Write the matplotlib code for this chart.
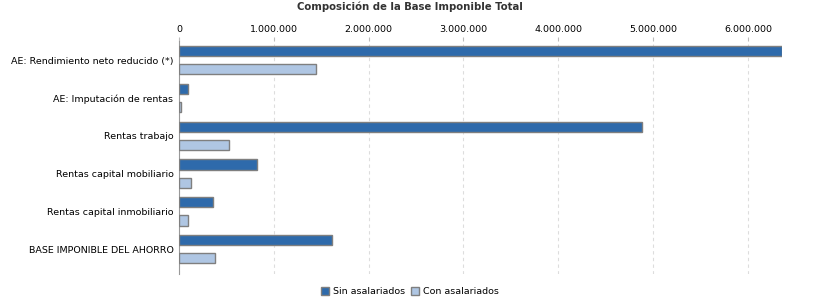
import matplotlib
matplotlib.use("Agg")
import matplotlib.pyplot as plt
import numpy as np
from matplotlib.ticker import FuncFormatter, MultipleLocator

categorias = [
    "AE: Rendimiento neto reducido (*)",
    "AE: Imputación de rentas",
    "Rentas trabajo",
    "Rentas capital mobiliario",
    "Rentas capital inmobiliario",
    "BASE IMPONIBLE DEL AHORRO",
]
sin_asalariados = [6360000, 92000, 4880000, 820000, 360000, 1610000]
con_asalariados = [1450000, 25000, 530000, 130000, 100000, 380000]

fig = plt.figure(figsize=(8.2, 3.0), dpi=100)
ax = fig.add_axes([0.2183, 0.087, 0.7354, 0.776])

y = np.arange(len(categorias))
alto = 0.27
ax.barh(y - 0.24, sin_asalariados, height=alto, color="#2E6AAB",
        edgecolor="#7F7F7F", linewidth=1, label="Sin asalariados", zorder=3)
ax.barh(y + 0.24, con_asalariados, height=alto, color="#AFC6E3",
        edgecolor="#7F7F7F", linewidth=1, label="Con asalariados", zorder=3)

ax.set_ylim(len(categorias) - 0.5 + 0.15, -0.5)
ax.set_xlim(0, max(sin_asalariados))
ax.set_yticks(y)
ax.set_yticklabels(categorias, fontsize=6.8)
ax.tick_params(axis="y", length=0, pad=4)

ax.xaxis.tick_top()
ax.xaxis.set_major_locator(MultipleLocator(1000000))
ax.xaxis.set_major_formatter(FuncFormatter(lambda v, p: f"{int(v):,}".replace(",", ".")))
ax.tick_params(axis="x", labelsize=6.8, length=3, color="#BBBBBB", pad=2)
ax.grid(axis="x", linestyle=(0, (3, 3)), color="#DDDDDD", linewidth=0.8, zorder=0)

for s in ["top", "right", "bottom"]:
    ax.spines[s].set_visible(False)
ax.spines["left"].set_color("#999999")

fig.suptitle("Composición de la Base Imponible Total", y=0.995, fontsize=7.3,
             fontweight="bold", color="#333333")

ax.legend(loc="upper center", bbox_to_anchor=(0.383, -0.02), ncol=2, frameon=False,
          fontsize=6.8, handlelength=0.9, handleheight=0.9, columnspacing=0.6,
          handletextpad=0.4)

fig.savefig("out.png", dpi=100)
